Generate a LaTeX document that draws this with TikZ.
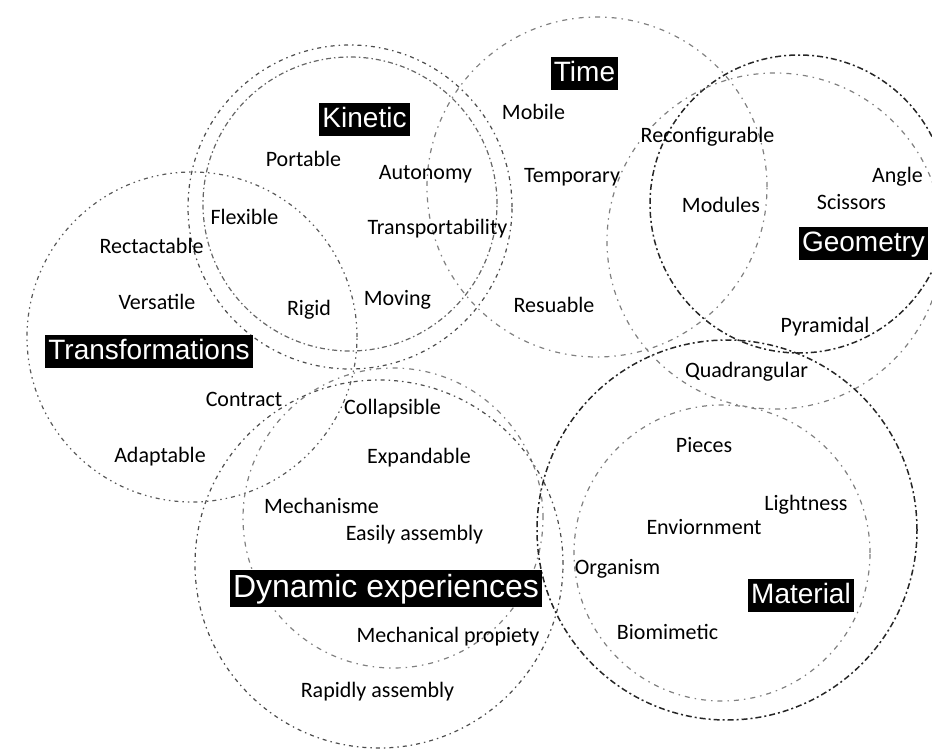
\documentclass[tikz,border=0pt]{standalone}
\usepackage{fontspec}
\setmainfont{Carlito}
\newfontfamily\titlefont{Liberation Sans}
\begin{document}
\begin{tikzpicture}[x=1pt,y=-1pt,
  ring/.style={line width=1.2pt},
  dashdotA/.style={ring,draw=black!70,dash pattern=on 4pt off 4pt on 1.5pt off 4pt},
  dashdotB/.style={ring,draw=black!60,dash pattern=on 5pt off 3pt on 1.5pt off 3pt},
  dashdotL/.style={ring,draw=black!50,dash pattern=on 5pt off 5pt on 1.5pt off 5pt},
  dashbold/.style={line width=1.5pt,draw=black!85,dash pattern=on 6pt off 3pt on 2pt off 3pt},
  dashdots/.style={ring,draw=black!65,dash pattern=on 4pt off 4pt on 1.5pt off 4pt on 1.5pt off 4pt},
  lbl/.style={font=\fontsize{22}{24}\selectfont,inner sep=0pt,text height=14pt,text depth=0pt},
  ttl/.style={fill=black,text=white,font=\titlefont\fontsize{28}{30}\selectfont,inner xsep=3pt,inner ysep=0pt,text height=24.5pt,text depth=8.5pt},
  bigttl/.style={ttl,font=\titlefont\fontsize{32}{34}\selectfont,text height=27.5pt,text depth=9.5pt}]
\useasboundingbox (0,0) rectangle (932,750);
\clip (0,0) rectangle (932,750);
% circles
\draw[dashdotA] (350,207) circle[radius=162pt];
\draw[dashdotB] (350,204) circle[radius=147pt];
\draw[dashdotL] (597,187) circle[radius=170pt];
\draw[dashbold] (799,204) circle[radius=149pt];
\draw[dashdotL] (775,241) circle[radius=168pt];
\draw[dashdots] (192,337) circle[radius=165pt];
\draw[dashdotA] (379,564) circle[radius=184pt];
\draw[dashdotL] (393,518) circle[radius=150pt];
\draw[dashbold] (727,530) circle[radius=190pt];
\draw[dashdotL] (722,553) circle[radius=148pt];
% titles
\node[ttl] (kin) at (364.5,119) {Kinetic};
\node[ttl] (tim) at (584.5,73.5) {Time};
\node[ttl] (geo) at (863.5,243) {Geometry};
\node[ttl] (tra) at (149,351.5) {Transformations};
\node[bigttl] (dyn) at (386,588.5) {Dynamic experiences};
\node[ttl] (mat) at (801,595) {Material};
% labels
\node[lbl] (portable) at (303.5,159) {Portable};
\node[lbl] (autonomy) at (425.5,172) {Autonomy};
\node[lbl] (flexible) at (244.5,217) {Flexible};
\node[lbl] (transp) at (437.5,227) {Transportability};
\node[lbl] (moving) at (397.5,298) {Moving};
\node[lbl] (rigid) at (309,308) {Rigid};
\node[lbl] (mobile) at (533.5,112) {Mobile};
\node[lbl] (reconf) at (707.5,135) {Reconfigurable};
\node[lbl] (temporary) at (572,175) {Temporary};
\node[lbl] (angle) at (897.5,175) {Angle};
\node[lbl] (modules) at (721,205) {Modules};
\node[lbl] (scissors) at (851.5,202) {Scissors};
\node[lbl] (resuable) at (554,305) {Resuable};
\node[lbl] (pyramidal) at (825,325) {Pyramidal};
\node[lbl] (quadr) at (746.5,370) {Quadrangular};
\node[lbl] (rectact) at (151.5,246) {Rectactable};
\node[lbl] (versatile) at (157,302) {Versatile};
\node[lbl] (contract) at (244,399) {Contract};
\node[lbl] (adaptable) at (160,455) {Adaptable};
\node[lbl] (collapsible) at (392.5,407) {Collapsible};
\node[lbl] (expandable) at (419,456) {Expandable};
\node[lbl] (mechanisme) at (321.5,506) {Mechanisme};
\node[lbl] (easily) at (414.5,533) {Easily assembly};
\node[lbl] (mechprop) at (448,635) {Mechanical propiety};
\node[lbl] (rapidly) at (377.5,690) {Rapidly assembly};
\node[lbl] (pieces) at (704,445) {Pieces};
\node[lbl] (lightness) at (806,503) {Lightness};
\node[lbl] (envir) at (704,527) {Enviornment};
\node[lbl] (organism) at (617.5,567) {Organism};
\node[lbl] (biomim) at (667.5,632) {Biomimetic};
\end{tikzpicture}
\end{document}
